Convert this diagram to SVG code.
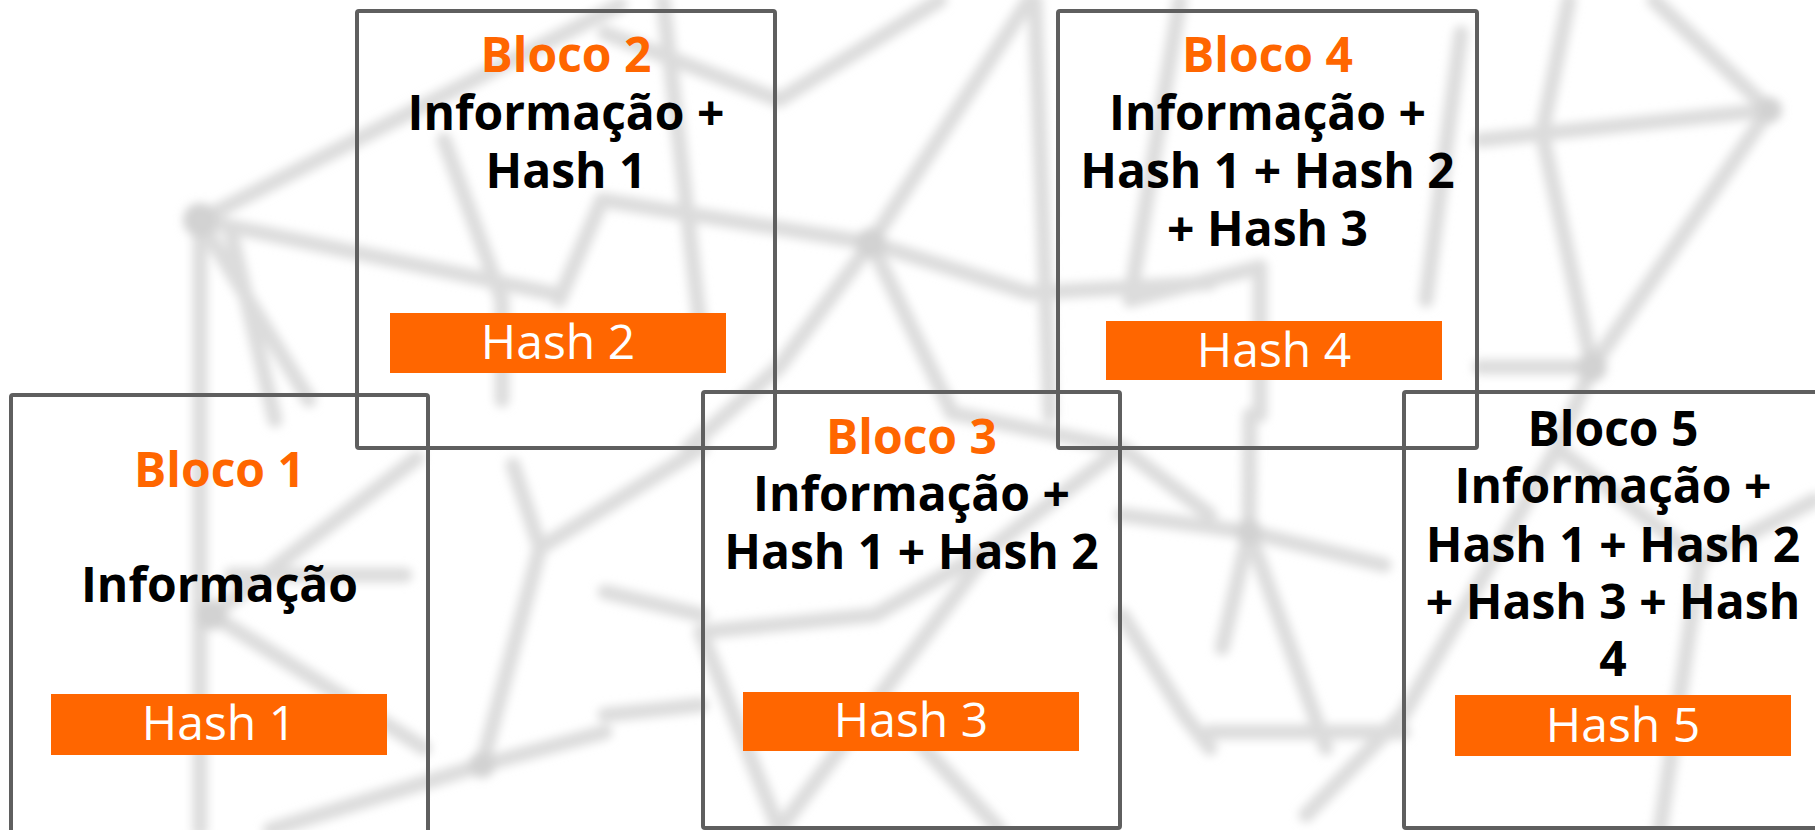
<svg xmlns="http://www.w3.org/2000/svg" width="1815" height="830" viewBox="0 0 1815 830">
<defs>
<filter id="blur" x="-10%" y="-10%" width="120%" height="120%"><feGaussianBlur stdDeviation="5"/></filter>
<style>
.bg{fill:#ffffff}
.mesh line{stroke:#dcdcdc;stroke-width:15;stroke-linecap:round}
.mesh circle{fill:#d2d2d2}
.box{fill:none;stroke:#5f5f5f;stroke-width:4}
.hash{fill:#ff6600}
.t{font-family:"Open Sans","Liberation Sans",sans-serif;font-size:48px;text-anchor:middle}
.title{font-weight:bold;fill:#ff6600}
.title5{font-weight:bold;fill:#000000}
.body{font-weight:bold;fill:#000000}
.ht{fill:#ffffff;font-weight:normal}
</style>
</defs>
<rect class="bg" x="0" y="0" width="1815" height="830"/>
<g id="background" class="mesh" filter="url(#blur)">
<line x1="200" y1="220" x2="620" y2="5"/>
<line x1="200" y1="220" x2="560" y2="295"/>
<line x1="200" y1="220" x2="200" y2="830"/>
<line x1="200" y1="220" x2="309" y2="400"/>
<line x1="231" y1="233" x2="275" y2="420"/>
<line x1="444" y1="140" x2="502" y2="300"/>
<line x1="502" y1="300" x2="502" y2="400"/>
<line x1="602" y1="200" x2="559" y2="300"/>
<line x1="602" y1="200" x2="871" y2="243"/>
<line x1="871" y1="243" x2="1029" y2="0"/>
<line x1="871" y1="243" x2="779" y2="367"/>
<line x1="779" y1="367" x2="688" y2="448"/>
<line x1="871" y1="243" x2="952" y2="413"/>
<line x1="871" y1="243" x2="1029" y2="293"/>
<line x1="1029" y1="293" x2="1210" y2="283"/>
<line x1="663" y1="0" x2="701" y2="333"/>
<line x1="779" y1="100" x2="605" y2="33"/>
<line x1="779" y1="100" x2="940" y2="0"/>
<line x1="1035" y1="0" x2="1050" y2="415"/>
<line x1="1569" y1="0" x2="1542" y2="133"/>
<line x1="1542" y1="133" x2="1592" y2="367"/>
<line x1="1654" y1="0" x2="1769" y2="110"/>
<line x1="1480" y1="140" x2="1769" y2="110"/>
<line x1="1769" y1="110" x2="1592" y2="367"/>
<line x1="1592" y1="367" x2="1480" y2="367"/>
<line x1="1260" y1="267" x2="1260" y2="415"/>
<line x1="1461" y1="33" x2="1426" y2="300"/>
<line x1="1180" y1="0" x2="1130" y2="300"/>
<line x1="1130" y1="300" x2="1260" y2="267"/>
<line x1="212" y1="615" x2="417" y2="458"/>
<line x1="231" y1="575" x2="405" y2="575"/>
<line x1="212" y1="615" x2="424" y2="748"/>
<line x1="482" y1="765" x2="540" y2="548"/>
<line x1="540" y1="548" x2="513" y2="465"/>
<line x1="482" y1="765" x2="270" y2="830"/>
<line x1="482" y1="765" x2="605" y2="732"/>
<line x1="540" y1="548" x2="701" y2="448"/>
<line x1="605" y1="592" x2="701" y2="615"/>
<line x1="605" y1="715" x2="701" y2="705"/>
<line x1="701" y1="632" x2="875" y2="615"/>
<line x1="779" y1="830" x2="991" y2="548"/>
<line x1="875" y1="615" x2="991" y2="548"/>
<line x1="991" y1="548" x2="1122" y2="448"/>
<line x1="1122" y1="448" x2="1210" y2="515"/>
<line x1="1122" y1="515" x2="1249" y2="532"/>
<line x1="1122" y1="615" x2="1184" y2="715"/>
<line x1="1184" y1="715" x2="1210" y2="748"/>
<line x1="952" y1="413" x2="1122" y2="448"/>
<line x1="1249" y1="532" x2="1250" y2="415"/>
<line x1="1249" y1="532" x2="1222" y2="648"/>
<line x1="1249" y1="532" x2="1384" y2="565"/>
<line x1="1249" y1="532" x2="1326" y2="748"/>
<line x1="1557" y1="448" x2="1403" y2="715"/>
<line x1="1403" y1="715" x2="1306" y2="815"/>
<line x1="1210" y1="732" x2="1403" y2="732"/>
<line x1="1592" y1="367" x2="1557" y2="448"/>
<line x1="1557" y1="448" x2="1700" y2="560"/>
<line x1="1700" y1="560" x2="1815" y2="500"/>
<line x1="1660" y1="830" x2="1700" y2="560"/>
<line x1="880" y1="700" x2="1000" y2="830"/>
<line x1="701" y1="632" x2="779" y2="830"/>
<circle cx="200" cy="220" r="17"/>
<circle cx="871" cy="243" r="15"/>
<circle cx="1592" cy="367" r="15"/>
<circle cx="1769" cy="110" r="13"/>
<circle cx="212" cy="615" r="15"/>
<circle cx="482" cy="765" r="13"/>
<circle cx="1249" cy="532" r="13"/>
</g>
<g id="connectors"></g>
<g id="bloco1">
<rect class="box" x="11" y="395" width="417" height="437" rx="2"/>
<rect class="hash" x="51" y="694" width="336" height="61"/>
<text class="t title" x="219.5" y="487">Bloco 1</text>
<text class="t body" x="219.5" y="602">Informação</text>
<text class="t ht" x="219" y="740">Hash 1</text>
</g>
<g id="bloco2">
<rect class="box" x="357" y="11" width="418" height="437" rx="2"/>
<rect class="hash" x="390" y="313" width="336" height="60"/>
<text class="t title" x="566" y="72">Bloco 2</text>
<text class="t body" x="566" y="130">Informação +</text>
<text class="t body" x="566" y="188">Hash 1</text>
<text class="t ht" x="558" y="359">Hash 2</text>
</g>
<g id="bloco3">
<rect class="box" x="703" y="392" width="417" height="436" rx="2"/>
<rect class="hash" x="743" y="692" width="336" height="59"/>
<text class="t title" x="911.5" y="454">Bloco 3</text>
<text class="t body" x="911.5" y="511">Informação +</text>
<text class="t body" x="911.5" y="569">Hash 1 + Hash 2</text>
<text class="t ht" x="911" y="737">Hash 3</text>
</g>
<g id="bloco4">
<rect class="box" x="1058" y="11" width="419" height="437" rx="2"/>
<rect class="hash" x="1106" y="321" width="336" height="59"/>
<text class="t title" x="1267.5" y="72">Bloco 4</text>
<text class="t body" x="1267.5" y="130">Informação +</text>
<text class="t body" x="1267.5" y="188">Hash 1 + Hash 2</text>
<text class="t body" x="1267.5" y="246">+ Hash 3</text>
<text class="t ht" x="1274" y="367">Hash 4</text>
</g>
<g id="bloco5">
<rect class="box" x="1404" y="392" width="418" height="436" rx="2"/>
<rect class="hash" x="1455" y="695" width="336" height="61"/>
<text class="t title5" x="1613" y="446">Bloco 5</text>
<text class="t body" x="1613" y="503">Informação +</text>
<text class="t body" x="1613" y="562">Hash 1 + Hash 2</text>
<text class="t body" x="1613" y="619">+ Hash 3 + Hash</text>
<text class="t body" x="1613" y="676">4</text>
<text class="t ht" x="1623" y="742">Hash 5</text>
</g>
</svg>
